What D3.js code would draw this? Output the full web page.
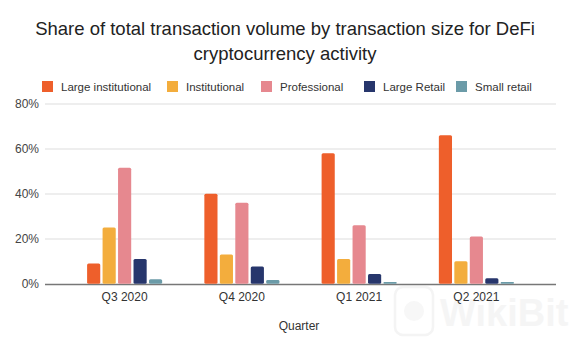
<!DOCTYPE html>
<html>
<head>
<meta charset="utf-8">
<script src="https://cdn.jsdelivr.net/npm/d3@7"></script>
<style>
  body { margin: 0; background: #fff; }
  svg { display: block; font-family: "Liberation Sans", Arial, sans-serif; }
</style>
</head>
<body>
<div id="chart"></div>
<script>
var quarters = ["Q3 2020", "Q4 2020", "Q1 2021", "Q2 2021"];
var seriesNames = ["Large institutional", "Institutional", "Professional", "Large Retail", "Small retail"];
var largeInstitutional = [9, 40, 58, 66];
var institutional = [25, 13, 11, 10];
var professional = [51.5, 36, 26, 21];
var largeRetail = [11, 7.6, 4.3, 2.4];
var smallRetail = [2, 1.6, 0.8, 0.8];
var yTicks = [0, 20, 40, 60, 80];
var colors = ["#ee5f2b", "#f3ad3d", "#e6888f", "#27366c", "#6b9ba8"];

var values = [largeInstitutional, institutional, professional, largeRetail, smallRetail];

var width = 570, height = 344;

var svg = d3.select("#chart").append("svg")
    .attr("width", width)
    .attr("height", height);

// title
svg.append("text")
    .attr("x", 285).attr("y", 35)
    .attr("text-anchor", "middle")
    .style("font-size", "18.5px")
    .style("fill", "#222")
    .text("Share of total transaction volume by transaction size for DeFi");
svg.append("text")
    .attr("x", 285).attr("y", 60)
    .attr("text-anchor", "middle")
    .style("font-size", "18.5px")
    .style("fill", "#222")
    .text("cryptocurrency activity");

// legend
var legendX = [42, 167, 261, 364, 456];
var legend = svg.selectAll("g.legend")
    .data(seriesNames)
    .enter()
    .append("g")
    .attr("class", "legend")
    .attr("transform", function(d, i){ return "translate(" + legendX[i] + ",81)"; });
legend.append("rect")
    .attr("width", 11).attr("height", 11)
    .style("fill", function(d, i){ return colors[i]; });
legend.append("text")
    .attr("x", 19).attr("y", 10)
    .style("font-size", "11.5px")
    .style("fill", "#333")
    .text(function(d){ return d; });

var y = d3.scaleLinear().domain([0, 80]).range([284, 104]);
var x0 = d3.scaleBand().domain(quarters).range([66, 535])
    .paddingInner(0.36).paddingOuter(0.18);
var x1 = d3.scaleBand().domain(seriesNames).range([0, x0.bandwidth()])
    .paddingInner(0.15);

// watermark, faint, behind everything
var wm = svg.append("g").style("opacity", 0.4);
wm.append("rect")
    .attr("x", 395).attr("y", 287)
    .attr("width", 38).attr("height", 48)
    .attr("rx", 8)
    .style("fill", "none")
    .style("stroke", "#e4e4e4")
    .style("stroke-width", 2.5);
wm.append("circle")
    .attr("cx", 414).attr("cy", 311).attr("r", 10)
    .style("fill", "#ececec");
wm.append("text")
    .attr("x", 440).attr("y", 326)
    .style("font-size", "38px")
    .style("font-weight", "bold")
    .style("fill", "#e8e8e8")
    .text("WikiBit");

// gridlines + y labels
svg.selectAll("line.grid")
    .data(yTicks.slice(1))
    .enter()
    .append("line")
    .attr("class", "grid")
    .attr("x1", 45).attr("x2", 556)
    .attr("y1", function(d){ return y(d); })
    .attr("y2", function(d){ return y(d); })
    .style("stroke", "#ddd");

svg.selectAll("text.ytick")
    .data(yTicks)
    .enter()
    .append("text")
    .attr("class", "ytick")
    .attr("x", 39)
    .attr("y", function(d){ return y(d) + 4; })
    .attr("text-anchor", "end")
    .style("font-size", "12px")
    .style("fill", "#444")
    .text(function(d){ return d + "%"; });

// baseline
svg.append("line")
    .attr("x1", 45).attr("x2", 556)
    .attr("y1", y(0) + 0.5).attr("y2", y(0) + 0.5)
    .style("stroke", "#777").style("stroke-width", 1.3);

// bars
var groups = svg.selectAll("g.quarter")
    .data(quarters)
    .enter()
    .append("g")
    .attr("class", "quarter")
    .attr("transform", function(d){ return "translate(" + x0(d) + ",0)"; });

groups.selectAll("rect")
    .data(function(q, qi){
        return seriesNames.map(function(s, si){ return {s: s, si: si, v: values[si][qi]}; });
    })
    .enter()
    .append("rect")
    .attr("x", function(d){ return x1(d.s); })
    .attr("y", function(d){ return y(d.v) - 0.3; })
    .attr("width", x1.bandwidth())
    .attr("height", function(d){ return y(0) - y(d.v); })
    .attr("rx", function(d){ return Math.min(1.5, (y(0) - y(d.v)) / 3); })
    .style("fill", function(d){ return colors[d.si]; });

// x labels
svg.selectAll("text.xtick")
    .data(quarters)
    .enter()
    .append("text")
    .attr("class", "xtick")
    .attr("x", function(d){ return x0(d) + x0.bandwidth() / 2; })
    .attr("y", 301)
    .attr("text-anchor", "middle")
    .style("font-size", "12px")
    .style("fill", "#333")
    .text(function(d){ return d; });

svg.append("text")
    .attr("x", 299).attr("y", 330)
    .attr("text-anchor", "middle")
    .style("font-size", "12px")
    .style("fill", "#333")
    .text("Quarter");
</script>
</body>
</html>
